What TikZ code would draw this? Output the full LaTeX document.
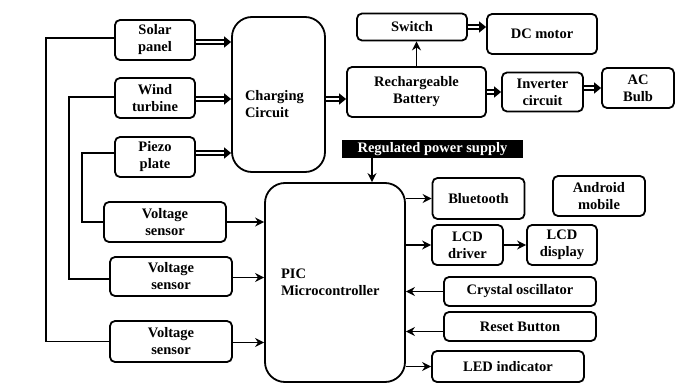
\documentclass[tikz,border=0pt]{standalone}
\usepackage{fontspec}
\setmainfont{Liberation Serif}
\usetikzlibrary{arrows.meta,positioning,calc}
\tikzset{
block/.style = {draw, fill=white, rectangle, rounded corners=5pt, align=center, line width=1.8pt, inner sep=1pt, font=\fontsize{14.5}{17}\selectfont\bfseries},
bsize/.style 2 args = {minimum width=#1pt, minimum height=#2pt},
bigblock/.style = {block, rounded corners=20pt, align=left},
banner/.style = {fill=black, text=white, rectangle, inner sep=1pt, font=\fontsize{14.5}{17}\selectfont\bfseries},
link/.style = {line width=1.8pt},
dlink/.style = {double, double distance=2.6pt, line width=1.3pt, -{Triangle[length=7pt,width=11pt]}}
}
\begin{document}
\begin{tikzpicture}[x=1pt, y=-1pt, >={Stealth[length=9pt,width=9pt]}]
    \useasboundingbox (0,0) rectangle (691,388);
    \node [block, bsize={80}{40}] (solar) at (155,40) {Solar\\panel};
    \node [block, bsize={80}{40}] (wind) at (155,98) {Wind\\turbine};
    \node [block, bsize={80}{40}] (piezo) at (155,157) {Piezo\\plate};
    \node [bigblock, bsize={93}{155}, text width=67pt, text height=30pt] (charging) at (278.5,94.5) {Charging\\Circuit};
    \node [block, bsize={139}{50}] (battery) at (416.5,92) {Rechargeable\\Battery};
    \node [block, bsize={110}{27}] (switch) at (412,27) {Switch};
    \node [block, bsize={110}{40}] (dcmotor) at (542,34) {DC motor};
    \node [block, bsize={81}{39}] (inverter) at (542.5,92) {Inverter\\circuit};
    \node [block, bsize={72}{40}] (acbulb) at (638,88) {AC\\Bulb};
    \node [banner, bsize={181}{18}] (regulated) at (432.5,149) {Regulated power supply};
    \node [bigblock, bsize={140}{199}, text width=108pt] (pic) at (335,282.5) {PIC\\Microcontroller};
    \node [block, bsize={122}{40}] (sensorA) at (165,222) {Voltage\\sensor};
    \node [block, bsize={122}{39}] (sensorB) at (171,276.5) {Voltage\\sensor};
    \node [block, bsize={122}{41}] (sensorC) at (171,341.5) {Voltage\\sensor};
    \node [block, bsize={92}{41}] (bluetooth) at (478.5,198.5) {Bluetooth};
    \node [block, bsize={92}{40}] (android) at (599,196) {Android\\mobile};
    \node [block, bsize={71}{40}] (lcddrv) at (467.5,245) {LCD\\driver};
    \node [block, bsize={70}{40}] (lcddisp) at (562,245) {LCD\\display};
    \node [block, bsize={152}{29}] (crystal) at (520,291.5) {Crystal oscillator};
    \node [block, bsize={152}{29}] (reset) at (520,326.5) {Reset Button};
    \node [block, bsize={152}{31}] (led) at (508,366.5) {LED indicator};

    \draw [link] ([yshift=2pt]solar.west) -- ++(-68,0) |- (sensorC.west);
    \draw [link] ([yshift=1pt]wind.west) -- ++(-45,0) |- ([yshift=-2.5pt]sensorB.west);
    \draw [link] ([yshift=4pt]piezo.west) -- ++(-32,0) |- (sensorA.west);

    \draw [link,->] (sensorA.east) -- (sensorA.east -| pic.west);
    \draw [link,->] ([yshift=-1pt]sensorB.east) -- ([yshift=-1pt]sensorB.east -| pic.west);
    \draw [link,->] ([yshift=-1pt]sensorC.east) -- ([yshift=-1pt]sensorC.east -| pic.west);

    \draw [dlink] ([yshift=-2pt]solar.east) -- ([yshift=-2pt]solar.east -| charging.west);
    \draw [dlink] ([yshift=-1pt]wind.east) -- ([yshift=-1pt]wind.east -| charging.west);
    \draw [dlink] ([yshift=4pt]piezo.east) -- ([yshift=4pt]piezo.east -| charging.west);
    \draw [dlink] ([yshift=-7pt]charging.east |- battery.west) -- ([yshift=-7pt]battery.west);
    \draw [dlink] (switch.east) -- (switch.east -| dcmotor.west);
    \draw [dlink] (battery.east) -- (battery.east -| inverter.west);
    \draw [dlink] (inverter.east |- acbulb.west) -- (acbulb.west);

    \draw [link,->] (battery.north) -- (battery.north |- switch.south);
    \draw [link,->] ([xshift=-60.5pt]regulated.south) -- ([xshift=-60.5pt]regulated.south |- pic.north);

    \draw [link,->] (pic.east |- bluetooth.west) -- (bluetooth.west);
    \draw [link,->] (pic.east |- lcddrv.west) -- (lcddrv.west);
    \draw [link,->] (lcddrv.east) -- (lcddisp.west);
    \draw [link,->] (crystal.west) -- (crystal.west -| pic.east);
    \draw [link,->] ([yshift=-5pt]reset.west) -- ([yshift=-5pt]reset.west -| pic.east);
    \draw [link,->] (pic.east |- led.west) -- (led.west);
\end{tikzpicture}
\end{document}
